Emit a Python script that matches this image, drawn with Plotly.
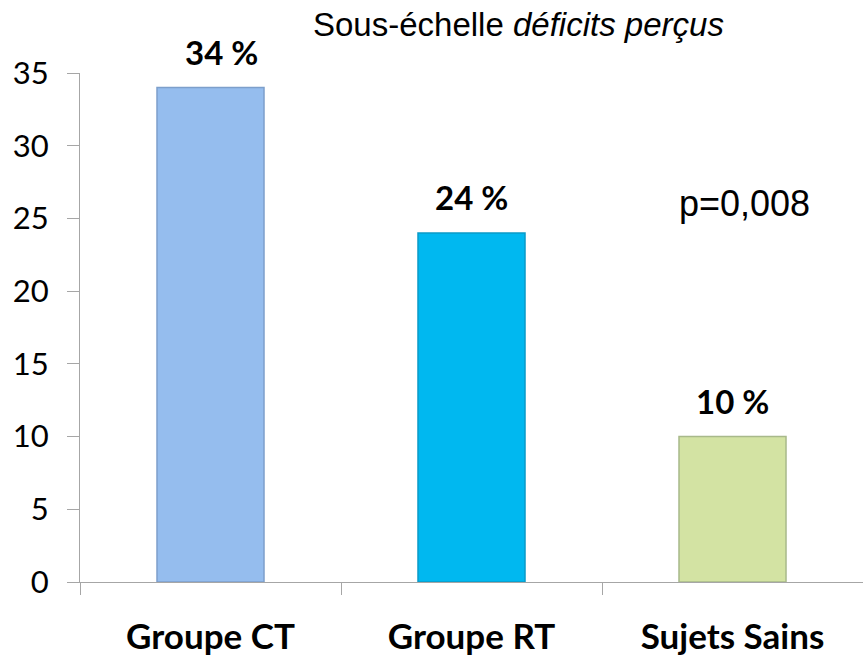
import plotly.graph_objects as go

categories = ["Groupe CT", "Groupe RT", "Sujets Sains"]
values = [34, 24, 10]
bar_colors = ["#95BDEE", "#00B8F0", "#D3E3A3"]
edge_colors = ["#7D9FCB", "#0A9AC8", "#A8B98A"]
y_ticks = [0, 5, 10, 15, 20, 25, 30, 35]
title_text = "Sous-échelle <i>déficits perçus</i>"
pvalue_text = "p=0,008"

fig = go.Figure()
fig.add_trace(go.Bar(
    x=categories, y=values, width=0.41,
    marker=dict(color=bar_colors, line=dict(color=edge_colors, width=1.5)),
    hoverinfo="skip", showlegend=False,
))

label_xshift = [11, 0, 0]  # styling: small horizontal nudge of the first label
for c, v, dx in zip(categories, values, label_xshift):
    fig.add_annotation(x=c, y=v, text=f"<b>{v} %</b>", showarrow=False,
                       xref="x", yref="y", yanchor="bottom", yshift=14, xshift=dx,
                       font=dict(family="Lato", size=33, color="black"))

fig.add_annotation(x=0.2951, y=1.096, xref="paper", yref="paper", xanchor="left",
                   yanchor="middle", text=title_text, showarrow=False,
                   font=dict(family="Liberation Sans", size=33, color="black"))
fig.add_annotation(x=0.849, y=0.743, xref="paper", yref="paper", xanchor="center",
                   yanchor="middle", text=pvalue_text, showarrow=False,
                   font=dict(family="Liberation Sans", size=36, color="black"))

fig.update_layout(
    width=863, height=655,
    margin=dict(l=80, r=0, t=73, b=73, autoexpand=False),
    plot_bgcolor="white", paper_bgcolor="white",
    bargap=0.59,
)
fig.update_xaxes(
    type="category", showline=True, linecolor="#A6A6A6", linewidth=1,
    ticks="outside", tickson="boundaries", ticklen=12, tickcolor="#A6A6A6",
    tickfont=dict(family="Lato", size=35, color="black"),
    ticklabelstandoff=24, showgrid=False, zeroline=False, automargin=False,
    tickprefix="<b>", ticksuffix="</b>",
)
fig.update_yaxes(
    range=[0, 35], tickvals=y_ticks, showline=True, linecolor="#A6A6A6", linewidth=1,
    ticks="outside", ticklen=12, tickcolor="#A6A6A6",
    tickfont=dict(family="Lato", size=31, color="black"),
    ticklabelstandoff=12, showgrid=False, zeroline=False, automargin=False,
)

fig.write_html("out.html", config={"displayModeBar": False},
               post_script="document.body.style.margin='0';")
